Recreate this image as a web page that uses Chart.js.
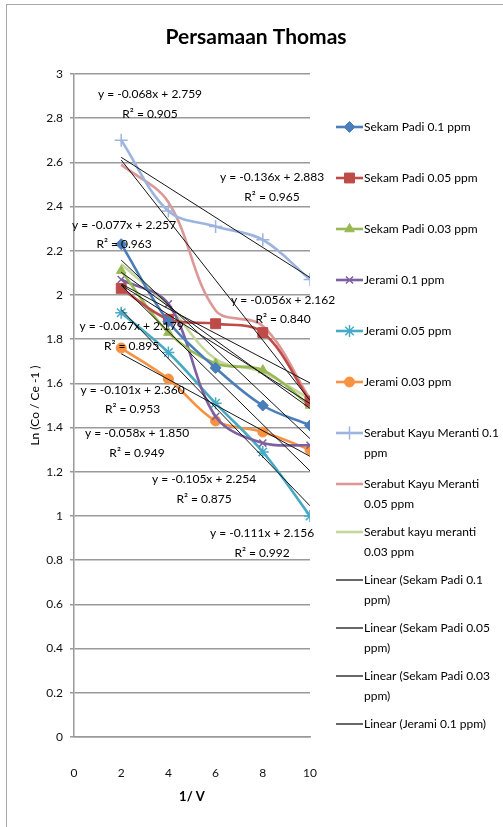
<!DOCTYPE html>
<html>
<head>
<meta charset="utf-8">
<title>Persamaan Thomas</title>
<script src="https://cdn.jsdelivr.net/npm/chart.js@4.4.1/dist/chart.umd.min.js"></script>
<style>
  html, body { margin: 0; padding: 0; background: #ffffff; }
  #wrap { position: relative; width: 503px; height: 827px; overflow: hidden; }
  #frame { position: absolute; left: 6px; top: 4px; width: 620px; height: 900px;
           border: 1px solid #a8a8a8; box-sizing: border-box; pointer-events: none; }
  canvas { position: absolute; left: 0; top: 0; }
</style>
</head>
<body>
<div id="wrap">
  <canvas id="chart" width="503" height="827"></canvas>
  <div id="frame"></div>
</div>
<script>
// ---- data -------------------------------------------------------------
const xValues = [2, 4, 6, 8, 10];            // 1 / V

const sekamPadi01   = [2.23, 1.88, 1.67, 1.50, 1.41];
const sekamPadi005  = [2.03, 1.89, 1.87, 1.83, 1.52];
const sekamPadi003  = [2.11, 1.83, 1.69, 1.66, 1.50];
const jerami01      = [2.07, 1.96, 1.45, 1.33, 1.32];
const jerami005     = [1.92, 1.74, 1.51, 1.29, 1.00];
const jerami003     = [1.76, 1.62, 1.43, 1.38, 1.30];
const serabut01     = [2.70, 2.38, 2.31, 2.25, 2.07];
const serabut005    = [2.59, 2.42, 1.93, 1.86, 1.53];
const serabut003    = [2.14, 1.95, 1.71, 1.65, 1.53];

const seriesNames = [
  'Sekam Padi 0.1 ppm', 'Sekam Padi 0.05 ppm', 'Sekam Padi 0.03 ppm',
  'Jerami 0.1 ppm', 'Jerami 0.05 ppm', 'Jerami 0.03 ppm',
  'Serabut Kayu Meranti 0.1 ppm', 'Serabut Kayu Meranti 0.05 ppm', 'Serabut kayu meranti 0.03 ppm'
];
const seriesValues = [sekamPadi01, sekamPadi005, sekamPadi003, jerami01, jerami005, jerami003,
                      serabut01, serabut005, serabut003];

// linear trend lines (same order as the series)
const trendSlopes     = [-0.101, -0.056, -0.067, -0.105, -0.111, -0.058, -0.068, -0.136, -0.077];
const trendIntercepts = [ 2.360,  2.162,  2.179,  2.254,  2.156,  1.850,  2.759,  2.883,  2.257];
const trendR2         = [ 0.953,  0.840,  0.895,  0.875,  0.992,  0.949,  0.905,  0.965,  0.963];

const xTickValues = [0, 2, 4, 6, 8, 10];

// ---- styling ----------------------------------------------------------
const seriesColors = ['#4a7ebb', '#be4b48', '#98b954', '#7d60a0', '#46aac5', '#f69240',
                      '#9db5de', '#dc9896', '#c4d79d'];
const seriesMarkers = [
  { style: 'rectRot',  radius: 5.5, width: 1 },
  { style: 'rect',     radius: 7,   width: 1 },
  { style: 'triangle', radius: 5.5, width: 1 },
  { style: 'crossRot', radius: 5,   width: 1.5 },
  { style: 'star',     radius: 6,   width: 1.5 },
  { style: 'circle',   radius: 5,   width: 1 },
  { style: 'cross',    radius: 6.5, width: 1.5 },
  { style: 'circle',   radius: 0,   width: 0 },
  { style: 'circle',   radius: 0,   width: 0 }
];
// where each equation box sits, in axis units (centre of its first line)
const equationAnchors = [
  [2.48, 1.570], [8.86, 1.977], [2.44, 1.857],
  [5.51, 1.166], [7.97, 0.922], [2.67, 1.374],
  [3.22, 2.908], [8.39, 2.533], [2.12, 2.317]
];
const LEGEND_ROOM = 13;   // the legend box only has room for the first 13 entries
const FONT = 'Lato, "Open Sans", sans-serif';

// ---- datasets ---------------------------------------------------------
const datasets = [];
seriesValues.forEach((vals, i) => {
  const m = seriesMarkers[i];
  datasets.push({
    label: seriesNames[i],
    data: xValues.map((x, k) => ({ x: x, y: vals[k] })),
    borderColor: seriesColors[i],
    backgroundColor: seriesColors[i],
    borderWidth: 2.6,
    tension: 0.35,
    pointStyle: m.style,
    pointRadius: m.radius,
    pointBorderWidth: m.width,
    pointBackgroundColor: seriesColors[i],
    pointBorderColor: seriesColors[i],
    order: 1,
    isSeries: true
  });
});
seriesValues.forEach((vals, i) => {
  const xs = [xValues[0], xValues[xValues.length - 1]];
  datasets.push({
    label: 'Linear (' + seriesNames[i] + ')',
    data: xs.map(x => ({ x: x, y: trendSlopes[i] * x + trendIntercepts[i] })),
    borderColor: '#161616',
    backgroundColor: '#161616',
    borderWidth: 1,
    tension: 0,
    pointRadius: 0,
    order: 0,
    isSeries: false
  });
});

// ---- plugins: title, equation labels, side legend ---------------------
const titlePlugin = {
  id: 'chartTitle',
  afterDraw(chart) {
    const ctx = chart.ctx;
    ctx.save();
    ctx.font = 'bold 21px ' + FONT;
    ctx.fillStyle = '#000';
    ctx.textAlign = 'center';
    ctx.textBaseline = 'middle';
    ctx.fillText('Persamaan Thomas', 256, 37);
    ctx.restore();
  }
};

const equationPlugin = {
  id: 'trendEquations',
  afterDatasetsDraw(chart) {
    const ctx = chart.ctx, xs = chart.scales.x, ys = chart.scales.y;
    ctx.save();
    ctx.font = '12px ' + FONT;
    ctx.fillStyle = '#000';
    ctx.textAlign = 'center';
    ctx.textBaseline = 'middle';
    trendSlopes.forEach((s, i) => {
      const px = xs.getPixelForValue(equationAnchors[i][0]);
      const py = ys.getPixelForValue(equationAnchors[i][1]);
      ctx.fillText('y = ' + s.toFixed(3) + 'x + ' + trendIntercepts[i].toFixed(3), px, py);
      ctx.fillText('R\u00B2 = ' + trendR2[i].toFixed(3), px, py + 19.5);
    });
    ctx.restore();
  }
};

function wrapText(ctx, text, maxWidth) {
  const words = text.split(' ');
  const lines = [];
  let line = '';
  words.forEach(w => {
    const test = line ? line + ' ' + w : w;
    if (ctx.measureText(test).width > maxWidth && line) {
      lines.push(line);
      line = w;
    } else {
      line = test;
    }
  });
  if (line) lines.push(line);
  return lines;
}

const legendPlugin = {
  id: 'sideLegend',
  afterDraw(chart) {
    const ctx = chart.ctx;
    const ds = chart.data.datasets.slice(0, LEGEND_ROOM);
    ctx.save();
    ctx.font = '12px ' + FONT;
    ctx.textBaseline = 'middle';
    ctx.textAlign = 'left';
    ds.forEach((d, i) => {
      const y = 127 + 51 * Math.min(i, 7) + 48 * Math.max(0, i - 7);
      ctx.strokeStyle = d.borderColor;
      ctx.lineWidth = d.isSeries ? 2.6 : 1.3;
      ctx.beginPath();
      ctx.moveTo(336, y);
      ctx.lineTo(363, y);
      ctx.stroke();
      if (d.isSeries && d.pointRadius > 0) {
        ctx.fillStyle = d.pointBackgroundColor;
        ctx.strokeStyle = d.pointBorderColor;
        ctx.lineWidth = d.pointBorderWidth;
        Chart.helpers.drawPoint(ctx, {
          pointStyle: d.pointStyle, radius: d.pointRadius,
          borderWidth: d.pointBorderWidth, rotation: 0
        }, 349.5, y);
      }
      ctx.fillStyle = '#000';
      wrapText(ctx, d.label, 138).forEach((ln, k) => {
        ctx.fillText(ln, 364, y + k * 20);
      });
    });
    ctx.restore();
  }
};

// ---- chart ------------------------------------------------------------
new Chart(document.getElementById('chart'), {
  type: 'line',
  data: { datasets: datasets },
  plugins: [titlePlugin, equationPlugin, legendPlugin],
  options: {
    responsive: false,
    animation: false,
    events: [],
    layout: { padding: { top: 74, right: 193, bottom: 15, left: 0 } },
    plugins: { legend: { display: false }, title: { display: false }, tooltip: { enabled: false } },
    scales: {
      x: {
        type: 'linear', min: 0, max: 10,
        afterBuildTicks(scale) { scale.ticks = xTickValues.map(v => ({ value: v })); },
        afterFit(scale) { scale.height = 75; },
        grid: { display: false },
        border: { display: true, color: '#9a9a9a', width: 1.5 },
        ticks: { padding: 21, color: '#111', font: { family: FONT, size: 12 } },
        title: { display: true, text: '1/ V', color: '#000', padding: { top: 0, bottom: 7 },
                 font: { family: FONT, size: 13, weight: 'bold' } }
      },
      y: {
        type: 'linear', min: 0, max: 3,
        afterFit(scale) { scale.width = 74; },
        grid: { color: '#9a9a9a', lineWidth: 1.5, drawTicks: true, tickLength: 4 },
        border: { display: true, color: '#9a9a9a', width: 1.5 },
        ticks: {
          stepSize: 0.2, autoSkip: false, padding: 7, color: '#111',
          font: { family: FONT, size: 12 },
          callback: v => String(Number(v.toFixed(1)))
        },
        title: { display: true, text: 'Ln (Co / Ce -1 )', color: '#000', padding: { top: 28, bottom: 0 },
                 font: { family: FONT, size: 12 } }
      }
    }
  }
});
</script>
</body>
</html>
